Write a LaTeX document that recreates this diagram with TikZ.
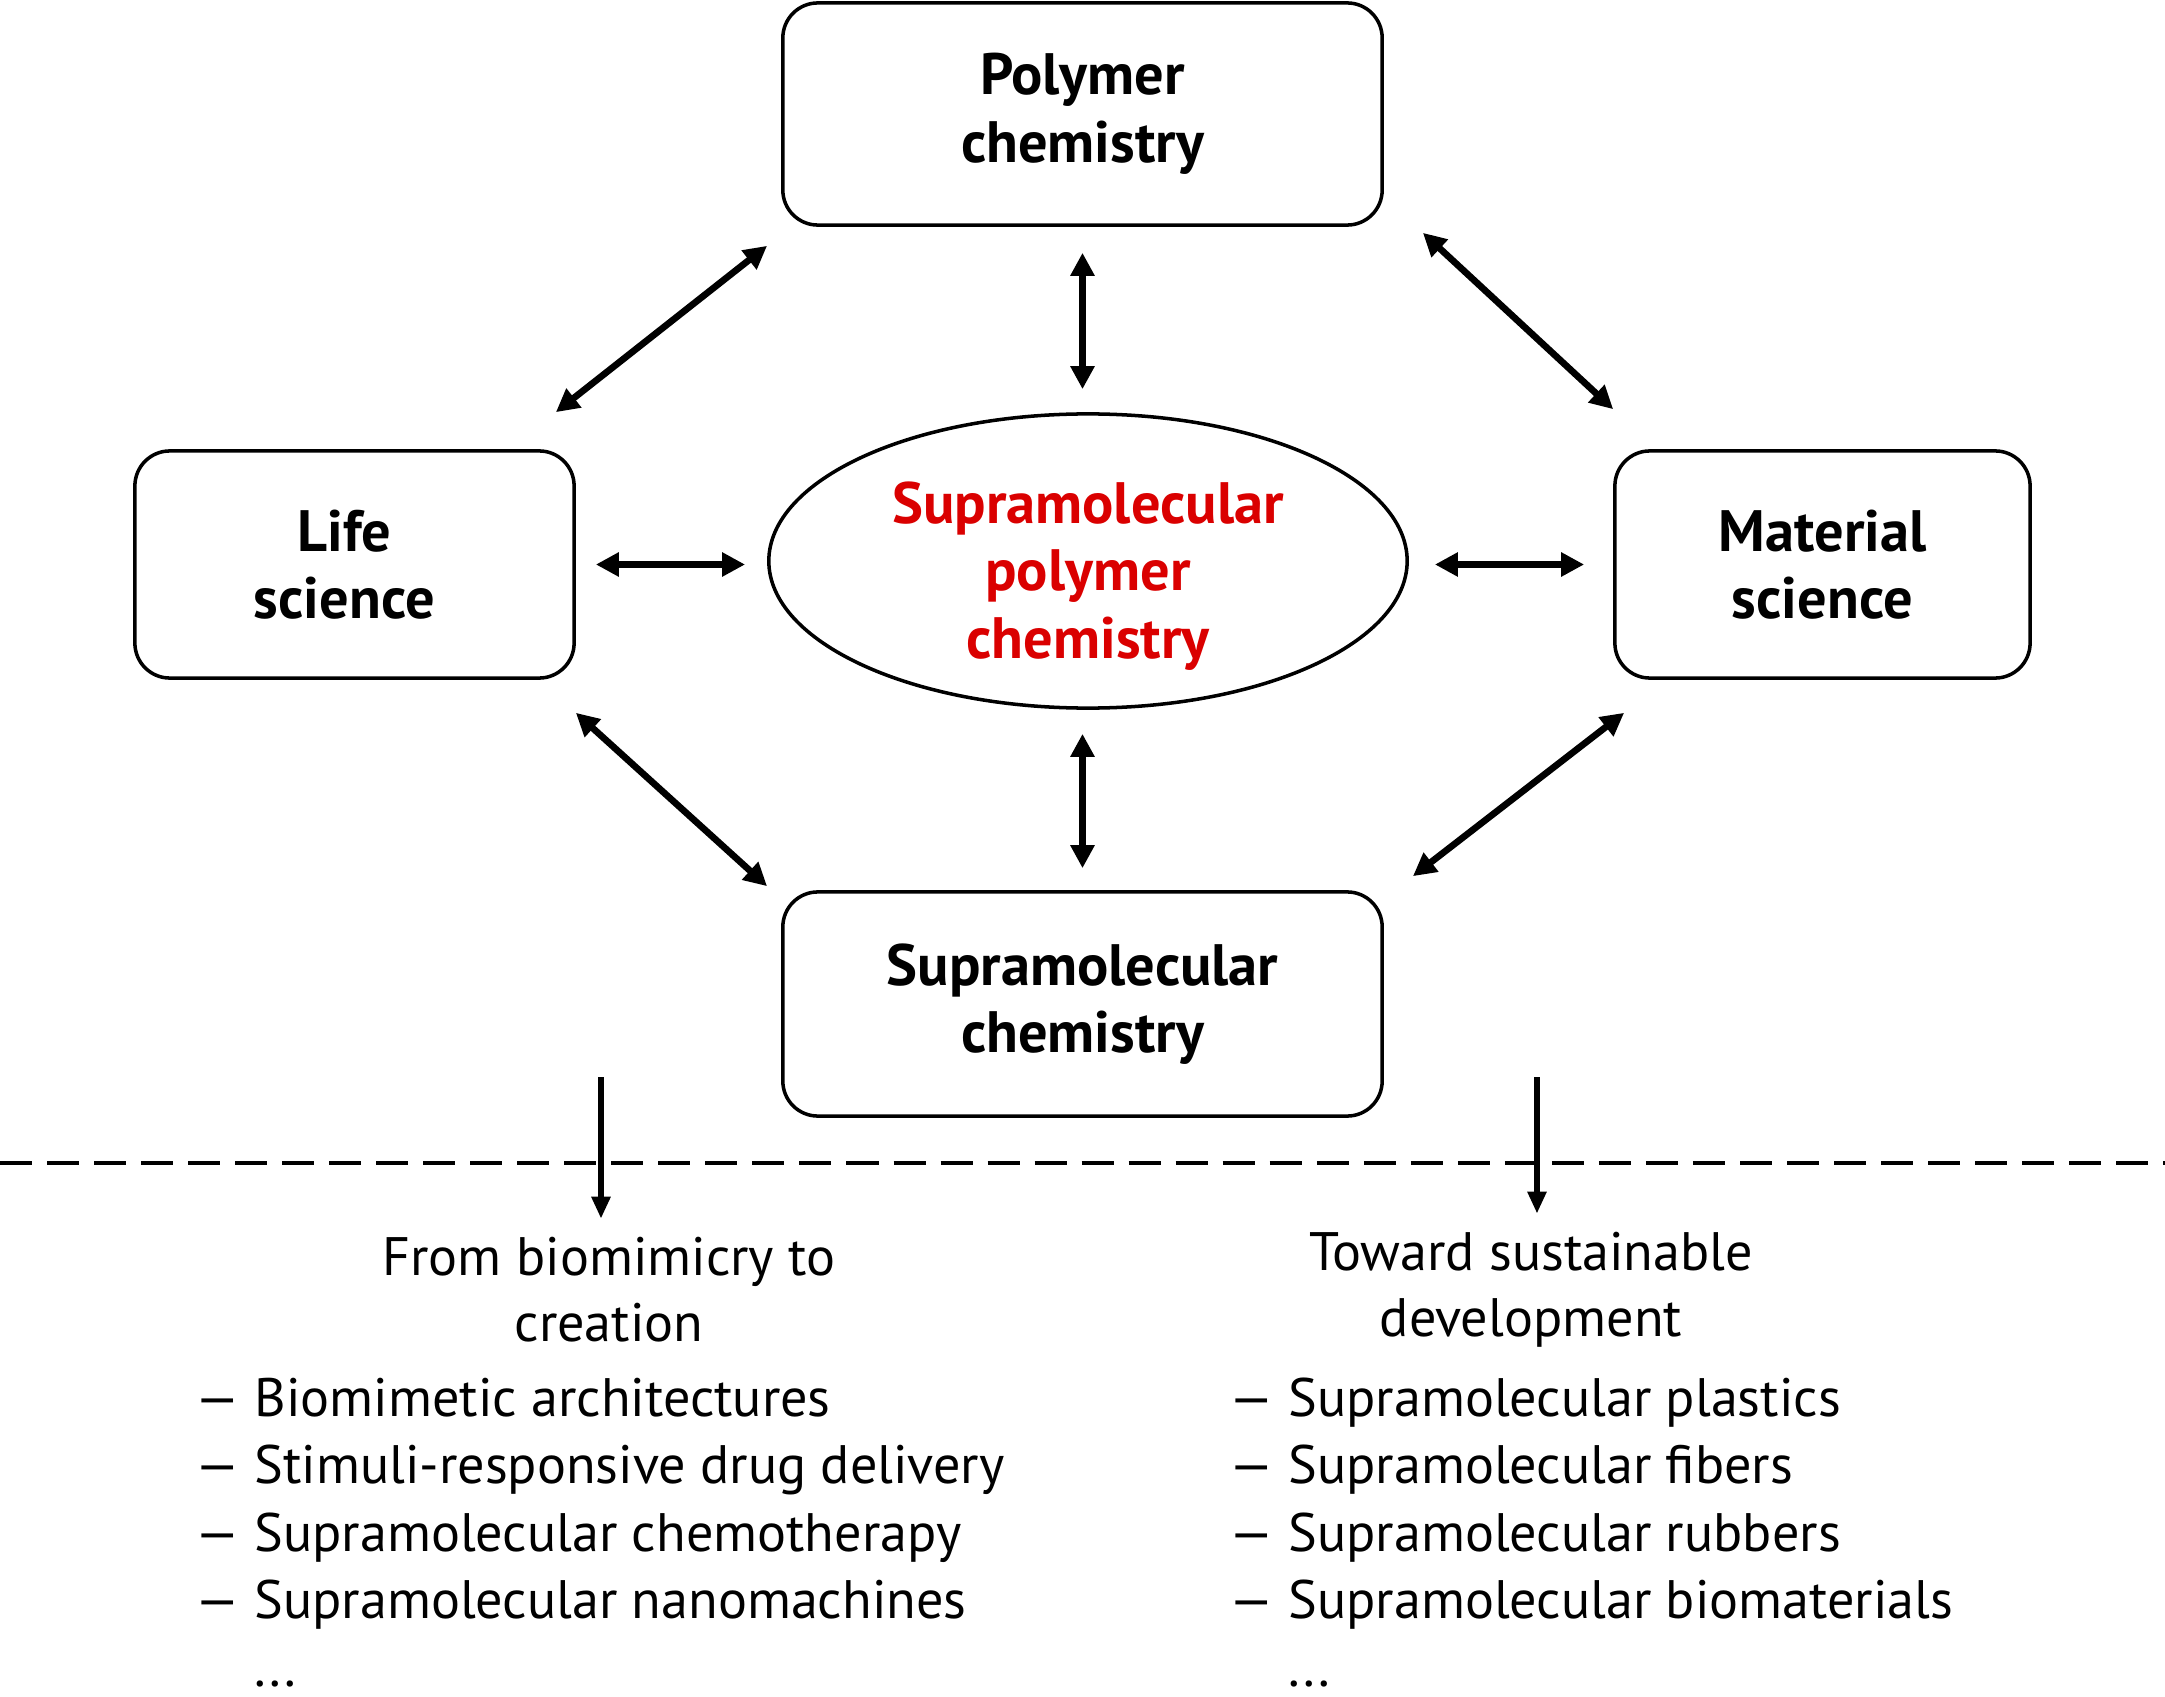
\documentclass[tikz,border=0pt]{standalone}
\usepackage{fontspec}
\setmainfont{PT Sans}
\usetikzlibrary{arrows.meta, calc, positioning, shapes.geometric}
\definecolor{supred}{RGB}{218,0,0}
\tikzset{
    boxnode/.style={rectangle, rounded corners=0.35cm, draw=black, line width=1pt, inner sep=0pt, align=center, font=\bfseries\fontsize{16.6}{19.2}\selectfont},
    ellnode/.style={ellipse, draw=black, line width=1pt, inner sep=0pt, minimum width=6.38cm, minimum height=2.94cm},
    elltext/.style={align=center, inner sep=0pt, yshift=-0.15cm, text=supred, font=\bfseries\fontsize{16.6}{19.2}\selectfont},
    myarrow/.style={<->, >={Triangle[length=0.23cm, width=0.23cm]}, line width=1.9pt},
    downarrow/.style={->, >={Triangle[length=0.22cm, width=0.18cm]}, line width=1.7pt},
    headlabel/.style={align=center, inner sep=0pt, font=\fontsize{15.4}{18.8}\selectfont},
    listlabel/.style={align=left, inner sep=0pt, anchor=north west, font=\fontsize{15.4}{19.2}\selectfont},
    divider/.style={dash pattern=on 0.32cm off 0.15cm, line width=1.1pt}
}

\begin{document}
\begin{tikzpicture}[x=0.01cm, y=-0.01cm]
    \useasboundingbox (0,0) rectangle (2165,1697);

        % ------------------
        % nodes
        % ------------------

        \node[boxnode, minimum width=5.99cm, minimum height=2.22cm] (poly) at (1082.5,114) {Polymer\\chemistry};
        \node[boxnode, minimum width=4.39cm, minimum height=2.27cm] (life) at (354.5,564.5) {\hspace*{-0.2cm}Life\\\hspace*{-0.2cm}science};
        \node[boxnode, minimum width=4.15cm, minimum height=2.27cm] (mat) at (1822.5,564.5) {Material\\science};
        \node[boxnode, minimum width=5.99cm, minimum height=2.24cm] (supra) at (1082.5,1004) {Supramolecular\\chemistry};
        \node[ellnode, label={[elltext]center:{Supramolecular\\polymer\\chemistry}}] (ell) at (1088,561) {};

        \node[headlabel] (lefthead) at (609,1290) {From biomimicry to\\creation};
        \node[headlabel] (righthead) at (1531,1290) {Toward sustainable\\development};

        \node[listlabel] (leftlist) at (195,1377) {— Biomimetic architectures\\— Stimuli-responsive drug delivery\\— Supramolecular chemotherapy\\— Supramolecular nanomachines\\\hphantom{— }...};
        \node[listlabel] (rightlist) at (1229,1377) {— Supramolecular plastics\\— Supramolecular fibers\\— Supramolecular rubbers\\— Supramolecular biomaterials\\\hphantom{— }...};

        \coordinate (leftdown) at (601,1077);
        \coordinate (rightdown) at (1537,1077);
        \coordinate (divl) at (0,1163);
        \coordinate (divr) at (2165,1163);

        % ------------------
        % arrows
        % ------------------

        \draw[myarrow] ($(poly.south)+(0,26)$) -- ($(poly.south |- ell.north)+(0,-23)$);
        \draw[myarrow] ($(supra.north |- ell.south)+(0,24)$) -- ($(supra.north)+(0,-22)$);
        \draw[myarrow] ($(life.east)+(20,0)$) -- ($(life.east -| ell.west)+(-22,0)$);
        \draw[myarrow] ($(mat.west -| ell.east)+(26,0)$) -- ($(mat.west)+(-29,0)$);

        \draw[myarrow] ($(life.north east)+(-20,-37)$) -- ($(poly.south west)+(-14,19)$);
        \draw[myarrow] ($(poly.south east)+(39,6)$) -- ($(mat.north west)+(0,-40)$);
        \draw[myarrow] ($(life.south east)+(0,33)$) -- ($(supra.north west)+(-14,-4)$);
        \draw[myarrow] ($(mat.south west)+(11,33)$) -- ($(supra.north east)+(29,-14)$);

        \draw[divider] (divl) -- (divr);
        \draw[downarrow] (leftdown) -- ($(leftdown |- lefthead.north)+(0,-18)$);
        \draw[downarrow] (rightdown) -- ($(rightdown |- righthead.north)+(0,-18)$);

\end{tikzpicture}
\end{document}
